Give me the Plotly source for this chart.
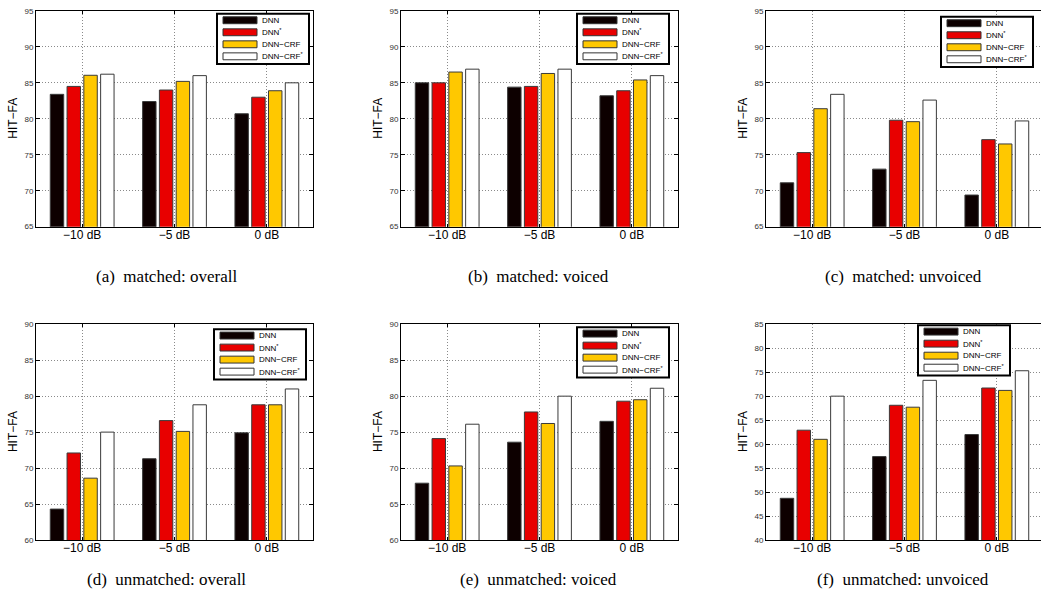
import plotly.graph_objects as go

W, H = 1041, 613

categories = ["−10 dB", "−5 dB", "0 dB"]
series_names = ["DNN", "DNN<sup>*</sup>", "DNN−CRF", "DNN−CRF<sup>*</sup>"]
colors = ["#0d0000", "#e80000", "#ffc800", "#ffffff"]
captions = ["(a)  matched: overall", "(b)  matched: voiced", "(c)  matched: unvoiced",
            "(d)  unmatched: overall", "(e)  unmatched: voiced", "(f)  unmatched: unvoiced"]
y_title = "HIT−FA"

# (a) matched: overall
a_dnn = [83.4, 82.4, 80.7]
a_dnn_s = [84.5, 84.0, 83.0]
a_crf = [86.05, 85.2, 83.9]
a_crf_s = [86.2, 86.0, 85.0]
# (b) matched: voiced
b_dnn = [85.0, 84.4, 83.2]
b_dnn_s = [85.0, 84.5, 83.9]
b_crf = [86.5, 86.3, 85.4]
b_crf_s = [86.9, 86.9, 86.0]
# (c) matched: unvoiced
c_dnn = [71.1, 73.0, 69.4]
c_dnn_s = [75.3, 79.8, 77.1]
c_crf = [81.4, 79.6, 76.5]
c_crf_s = [83.4, 82.6, 79.7]
# (d) unmatched: overall
d_dnn = [64.3, 71.3, 74.9]
d_dnn_s = [72.1, 76.6, 78.8]
d_crf = [68.6, 75.1, 78.8]
d_crf_s = [75.0, 78.8, 81.0]
# (e) unmatched: voiced
e_dnn = [67.9, 73.6, 76.5]
e_dnn_s = [74.1, 77.8, 79.3]
e_crf = [70.3, 76.2, 79.5]
e_crf_s = [76.1, 80.0, 81.1]
# (f) unmatched: unvoiced
f_dnn = [48.7, 57.4, 62.0]
f_dnn_s = [62.9, 68.1, 71.7]
f_crf = [61.0, 67.7, 71.2]
f_crf_s = [70.0, 73.3, 75.3]

panels = [
    [a_dnn, a_dnn_s, a_crf, a_crf_s],
    [b_dnn, b_dnn_s, b_crf, b_crf_s],
    [c_dnn, c_dnn_s, c_crf, c_crf_s],
    [d_dnn, d_dnn_s, d_crf, d_crf_s],
    [e_dnn, e_dnn_s, e_crf, e_crf_s],
    [f_dnn, f_dnn_s, f_crf, f_crf_s],
]
y_ranges = [[65, 95], [65, 95], [65, 95], [60, 90], [60, 90], [40, 85]]


def px(x):
    return x / W


def py(y):
    return 1 - y / H


# layout geometry (pixels)
col_left = [36, 401, 766]
plot_w = 277
row_top = [7, 325]
plot_h = 219
legend_pos = [(217, 10), (577, 10), (941, 13), (214, 330), (577, 328), (918, 326)]
caption_x = [166, 538, 903]
caption_y = [277, 584]
ytitle_x = [13, 378, 743]

fig = go.Figure()
shapes = []
annotations = []
layout = {}

for i, vals in enumerate(panels):
    r, c = divmod(i, 3)
    n = i + 1
    xa = "x" if n == 1 else f"x{n}"
    ya = "y" if n == 1 else f"y{n}"
    for k, series in enumerate(vals):
        fig.add_trace(go.Bar(
            x=categories, y=series, name=series_names[k],
            marker=dict(color=colors[k], line=dict(color="#3a3a3a", width=1)),
            textposition="none", hoverinfo="x+y+name",
            showlegend=False, xaxis=xa, yaxis=ya,
        ))
    left = col_left[c]
    right = min(left + plot_w, W)
    xr_right = -0.5 + 3 * (right - left) / plot_w
    top = row_top[r]
    bottom = top + plot_h
    xkey = "xaxis" if n == 1 else f"xaxis{n}"
    ykey = "yaxis" if n == 1 else f"yaxis{n}"
    layout[xkey] = dict(
        domain=[px(left), px(right)], anchor=ya, range=[-0.5, xr_right],
        showline=True, linecolor="black", linewidth=1, mirror="ticks" if c < 2 else True,
        ticks="inside", ticklen=3, tickcolor="black",
        showgrid=True, gridcolor="#8a8a8a", griddash="1px,2px", gridwidth=1,
        tickfont=dict(family="Liberation Sans", size=12, color="black"),
        ticklabelstandoff=-3,
        fixedrange=True,
    )
    layout[ykey] = dict(
        domain=[py(bottom), py(top)], anchor=xa, range=y_ranges[i], dtick=5, tick0=0,
        showline=True, linecolor="black", linewidth=1, mirror="ticks" if c < 2 else False,
        ticks="inside", ticklen=4, tickcolor="black",
        showgrid=True, gridcolor="#8a8a8a", griddash="1px,2px", gridwidth=1,
        zeroline=False,
        tickfont=dict(family="Liberation Sans", size=8, color="#333333"),
        fixedrange=True,
    )
    # y title
    annotations.append(dict(
        x=px(ytitle_x[c]), y=py((top + bottom) / 2), xref="paper", yref="paper",
        text=y_title, textangle=-90, showarrow=False,
        font=dict(family="Liberation Sans", size=12, color="black"),
        xanchor="center", yanchor="middle",
    ))
    # caption
    annotations.append(dict(
        x=px(caption_x[c]), y=py(caption_y[r]), xref="paper", yref="paper",
        text=captions[i], showarrow=False,
        font=dict(family="Liberation Serif", size=17, color="black"),
        xanchor="center", yanchor="middle",
    ))
    # custom legend
    bx, by = legend_pos[i]
    bw, bh = 92, 51
    shapes.append(dict(type="rect", xref="paper", yref="paper",
                       x0=px(bx), x1=px(bx + bw), y0=py(by + bh), y1=py(by),
                       line=dict(color="black", width=2), fillcolor="white"))
    for k in range(4):
        cy = by + 6.5 + k * 12.2
        shapes.append(dict(type="rect", xref="paper", yref="paper",
                           x0=px(bx + 6), x1=px(bx + 40), y0=py(cy + 3.5), y1=py(cy - 3.5),
                           line=dict(color="#333333", width=1), fillcolor=colors[k]))
        annotations.append(dict(
            x=px(bx + 43), y=py(cy), xref="paper", yref="paper",
            text=series_names[k], showarrow=False,
            font=dict(family="Liberation Sans", size=8, color="black"),
            xanchor="left", yanchor="middle",
        ))

fig.update_layout(
    width=W, height=H, margin=dict(l=0, r=0, t=0, b=0),
    paper_bgcolor="white", plot_bgcolor="white",
    barmode="group", bargap=0.273, bargroupgap=0.2,
    shapes=shapes, annotations=annotations, showlegend=False,
    **layout,
)

fig.write_html("out.html", config={"displayModeBar": False},
               post_script="document.body.style.margin='0';")
